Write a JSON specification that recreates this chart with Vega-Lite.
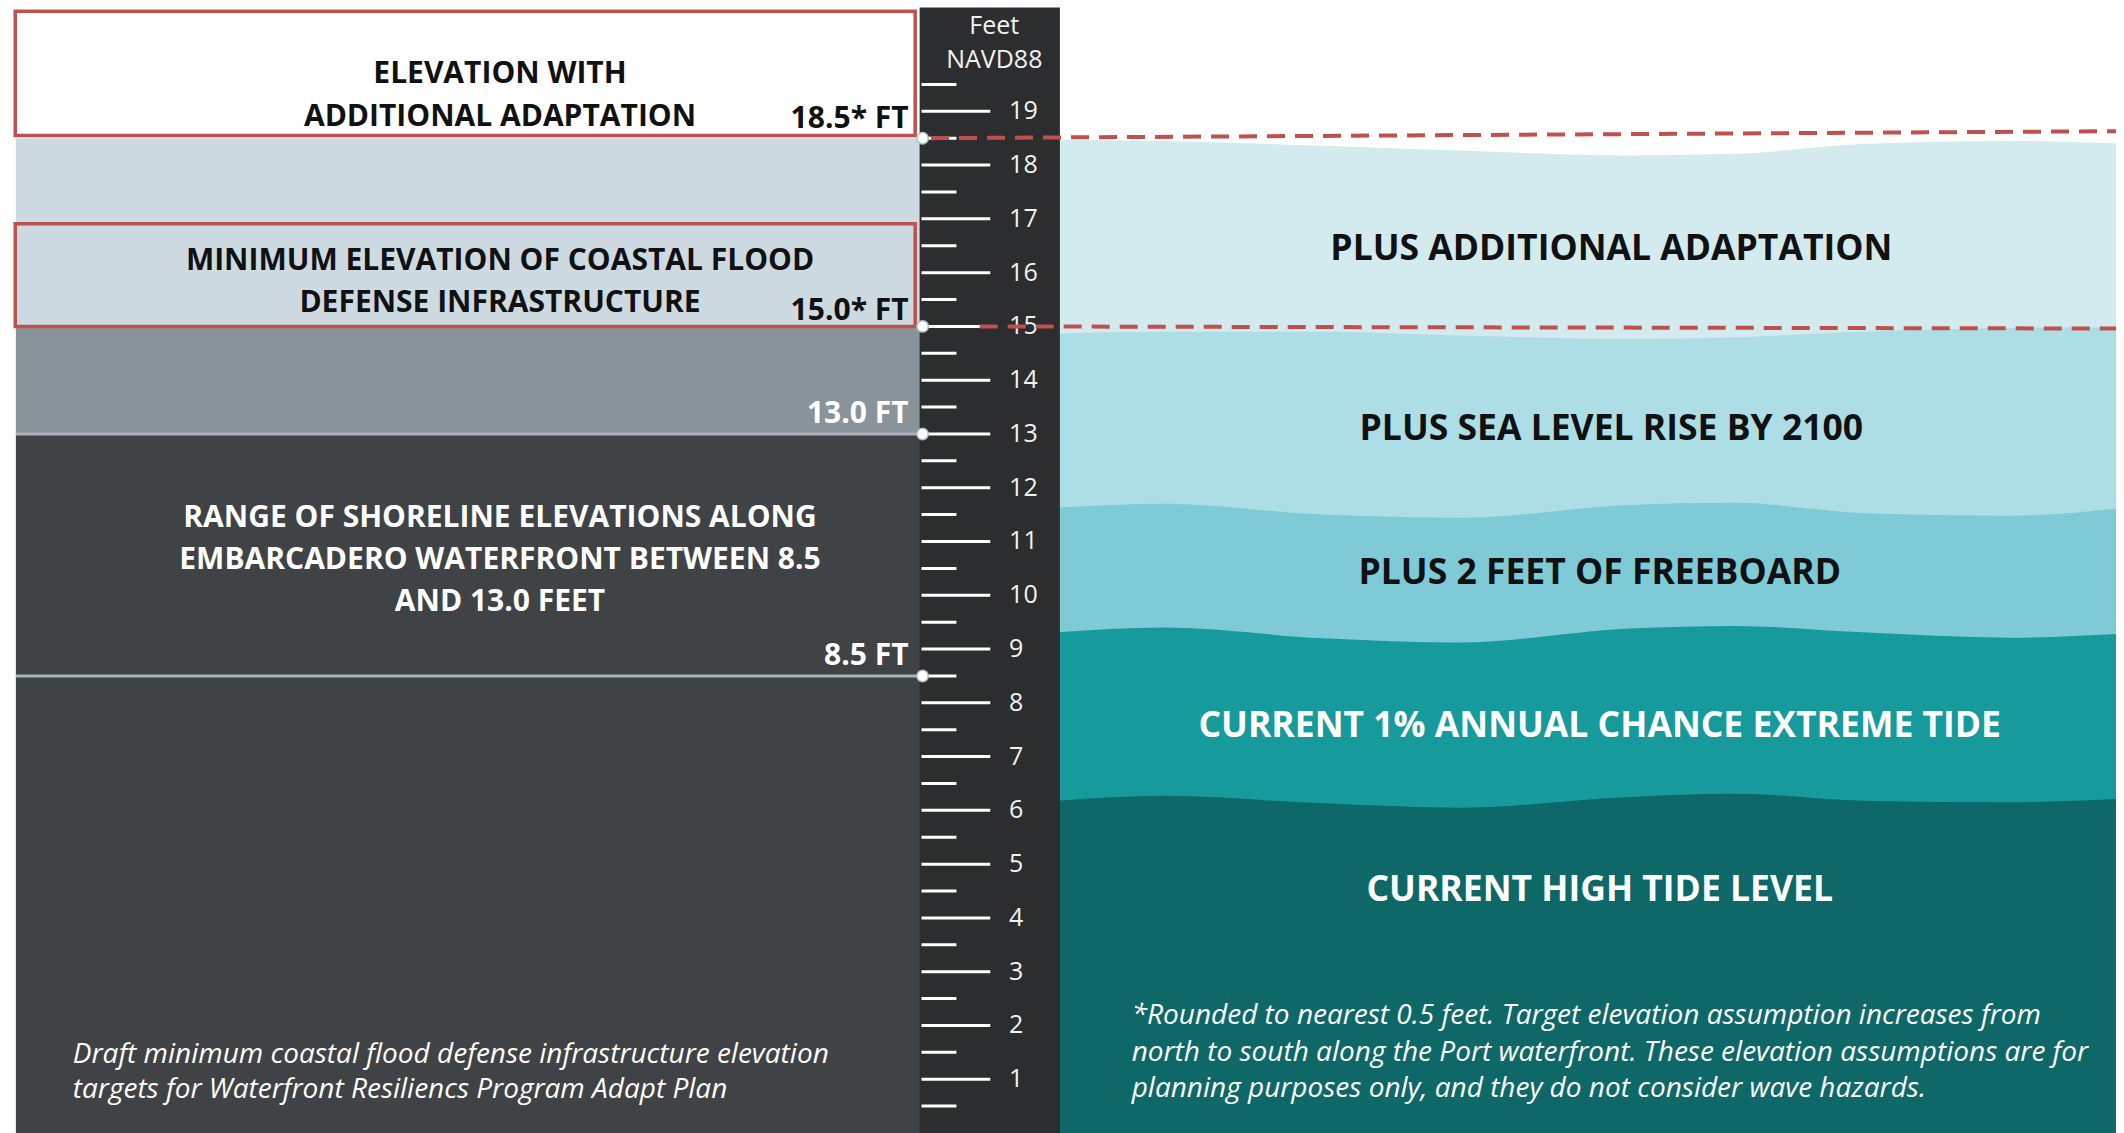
{
  "$schema": "https://vega.github.io/schema/vega-lite/v6.json",
  "width": 2124,
  "height": 1133,
  "padding": 0,
  "autosize": {"type": "fit", "contains": "padding"},
  "background": "white",
  "config": {"view": {"stroke": null}, "font": "Open Sans"},
  "datasets": {
    "zones": [
      {"zone": "Min. elevation to adapted elevation", "lo": 15, "hi": 18.5},
      {"zone": "Above shoreline range", "lo": 13, "hi": 15},
      {"zone": "Shoreline range and below", "lo": 0, "hi": 13}
    ],
    "waves": [
      {"band": "Plus additional adaptation", "x": 50, "ft": 18.47},
      {"band": "Plus additional adaptation", "x": 55, "ft": 18.45},
      {"band": "Plus additional adaptation", "x": 62.5, "ft": 18.36},
      {"band": "Plus additional adaptation", "x": 69, "ft": 18.27},
      {"band": "Plus additional adaptation", "x": 77, "ft": 18.18},
      {"band": "Plus additional adaptation", "x": 82, "ft": 18.21},
      {"band": "Plus additional adaptation", "x": 88, "ft": 18.39},
      {"band": "Plus additional adaptation", "x": 95, "ft": 18.45},
      {"band": "Plus additional adaptation", "x": 100, "ft": 18.40},
      {"band": "Plus sea level rise by 2100", "x": 50, "ft": 14.87},
      {"band": "Plus sea level rise by 2100", "x": 55, "ft": 14.90},
      {"band": "Plus sea level rise by 2100", "x": 62.5, "ft": 14.90},
      {"band": "Plus sea level rise by 2100", "x": 69, "ft": 14.83},
      {"band": "Plus sea level rise by 2100", "x": 77, "ft": 14.77},
      {"band": "Plus sea level rise by 2100", "x": 82, "ft": 14.80},
      {"band": "Plus sea level rise by 2100", "x": 88, "ft": 14.90},
      {"band": "Plus sea level rise by 2100", "x": 95, "ft": 14.97},
      {"band": "Plus sea level rise by 2100", "x": 100, "ft": 14.98},
      {"band": "Plus 2 feet of freeboard", "x": 50, "ft": 11.63},
      {"band": "Plus 2 feet of freeboard", "x": 55, "ft": 11.70},
      {"band": "Plus 2 feet of freeboard", "x": 62.5, "ft": 11.50},
      {"band": "Plus 2 feet of freeboard", "x": 69, "ft": 11.44},
      {"band": "Plus 2 feet of freeboard", "x": 77, "ft": 11.68},
      {"band": "Plus 2 feet of freeboard", "x": 82, "ft": 11.72},
      {"band": "Plus 2 feet of freeboard", "x": 88, "ft": 11.53},
      {"band": "Plus 2 feet of freeboard", "x": 95, "ft": 11.48},
      {"band": "Plus 2 feet of freeboard", "x": 100, "ft": 11.61},
      {"band": "Current 1% annual chance extreme tide", "x": 50, "ft": 9.31},
      {"band": "Current 1% annual chance extreme tide", "x": 55, "ft": 9.40},
      {"band": "Current 1% annual chance extreme tide", "x": 62.5, "ft": 9.20},
      {"band": "Current 1% annual chance extreme tide", "x": 69, "ft": 9.12},
      {"band": "Current 1% annual chance extreme tide", "x": 77, "ft": 9.38},
      {"band": "Current 1% annual chance extreme tide", "x": 82, "ft": 9.43},
      {"band": "Current 1% annual chance extreme tide", "x": 88, "ft": 9.31},
      {"band": "Current 1% annual chance extreme tide", "x": 95, "ft": 9.21},
      {"band": "Current 1% annual chance extreme tide", "x": 100, "ft": 9.28},
      {"band": "Current high tide level", "x": 50, "ft": 6.18},
      {"band": "Current high tide level", "x": 55, "ft": 6.27},
      {"band": "Current high tide level", "x": 62.5, "ft": 6.13},
      {"band": "Current high tide level", "x": 69, "ft": 6.05},
      {"band": "Current high tide level", "x": 77, "ft": 6.25},
      {"band": "Current high tide level", "x": 82, "ft": 6.31},
      {"band": "Current high tide level", "x": 88, "ft": 6.18},
      {"band": "Current high tide level", "x": 95, "ft": 6.15},
      {"band": "Current high tide level", "x": 100, "ft": 6.21}
    ],
    "ticks": [
      {"ft": 1, "kind": "major"}, {"ft": 2, "kind": "major"}, {"ft": 3, "kind": "major"}, {"ft": 4, "kind": "major"},
      {"ft": 5, "kind": "major"}, {"ft": 6, "kind": "major"}, {"ft": 7, "kind": "major"}, {"ft": 8, "kind": "major"},
      {"ft": 9, "kind": "major"}, {"ft": 10, "kind": "major"}, {"ft": 11, "kind": "major"}, {"ft": 12, "kind": "major"},
      {"ft": 13, "kind": "major"}, {"ft": 14, "kind": "major"}, {"ft": 15, "kind": "major"}, {"ft": 16, "kind": "major"},
      {"ft": 17, "kind": "major"}, {"ft": 18, "kind": "major"}, {"ft": 19, "kind": "major"},
      {"ft": 0.5, "kind": "minor"}, {"ft": 1.5, "kind": "minor"}, {"ft": 2.5, "kind": "minor"}, {"ft": 3.5, "kind": "minor"},
      {"ft": 4.5, "kind": "minor"}, {"ft": 5.5, "kind": "minor"}, {"ft": 6.5, "kind": "minor"}, {"ft": 7.5, "kind": "minor"},
      {"ft": 8.5, "kind": "minor"}, {"ft": 9.5, "kind": "minor"}, {"ft": 10.5, "kind": "minor"}, {"ft": 11.5, "kind": "minor"},
      {"ft": 12.5, "kind": "minor"}, {"ft": 13.5, "kind": "minor"}, {"ft": 14.5, "kind": "minor"}, {"ft": 15.5, "kind": "minor"},
      {"ft": 16.5, "kind": "minor"}, {"ft": 17.5, "kind": "minor"}, {"ft": 18.5, "kind": "minor"}, {"ft": 19.5, "kind": "minor"}
    ],
    "shoreline": [{"ft": 13}, {"ft": 8.5}],
    "boxes": [
      {"box": "Elevation with additional adaptation", "lo": 18.55, "hi": 20.86},
      {"box": "Minimum elevation of coastal flood defense infrastructure", "lo": 15.0, "hi": 16.91}
    ],
    "targets": [
      {"line": "18.5 ft", "x": 44.0, "ft": 18.5},
      {"line": "18.5 ft", "x": 100, "ft": 18.63},
      {"line": "15.0 ft", "x": 46.3, "ft": 15.0},
      {"line": "15.0 ft", "x": 100, "ft": 14.96}
    ],
    "markers": [{"ft": 18.5}, {"ft": 15}, {"ft": 13}, {"ft": 8.5}],
    "labels": [
      {"role": "leftDark", "text": "ELEVATION WITH", "x": 23.63, "ft": 19.53},
      {"role": "leftDark", "text": "ADDITIONAL ADAPTATION", "x": 23.63, "ft": 18.73},
      {"role": "leftDark", "text": "MINIMUM ELEVATION OF COASTAL FLOOD", "x": 23.63, "ft": 16.05},
      {"role": "leftDark", "text": "DEFENSE INFRASTRUCTURE", "x": 23.63, "ft": 15.27},
      {"role": "leftLight", "text": "RANGE OF SHORELINE ELEVATIONS ALONG", "x": 23.63, "ft": 11.27},
      {"role": "leftLight", "text": "EMBARCADERO WATERFRONT BETWEEN 8.5", "x": 23.63, "ft": 10.49},
      {"role": "leftLight", "text": "AND 13.0 FEET", "x": 23.63, "ft": 9.71},
      {"role": "valueDark", "text": "18.5* FT", "x": 42.94, "ft": 18.69},
      {"role": "valueDark", "text": "15.0* FT", "x": 42.94, "ft": 15.12},
      {"role": "valueLight", "text": "13.0 FT", "x": 42.94, "ft": 13.2},
      {"role": "valueLight", "text": "8.5 FT", "x": 42.94, "ft": 8.7},
      {"role": "rightDark", "text": "PLUS ADDITIONAL ADAPTATION", "x": 76.15, "ft": 16.24},
      {"role": "rightDark", "text": "PLUS SEA LEVEL RISE BY 2100", "x": 76.15, "ft": 12.89},
      {"role": "rightDark", "text": "PLUS 2 FEET OF FREEBOARD", "x": 75.6, "ft": 10.21},
      {"role": "rightLight", "text": "CURRENT 1% ANNUAL CHANCE EXTREME TIDE", "x": 75.6, "ft": 7.36},
      {"role": "rightLight", "text": "CURRENT HIGH TIDE LEVEL", "x": 75.6, "ft": 4.31},
      {"role": "note", "text": "Draft minimum coastal flood defense infrastructure elevation", "x": 3.44, "ft": 1.31},
      {"role": "note", "text": "targets for Waterfront Resiliencs Program Adapt Plan", "x": 3.44, "ft": 0.65},
      {"role": "note", "text": "*Rounded to nearest 0.5 feet. Target elevation assumption increases from", "x": 53.48, "ft": 2.03},
      {"role": "note", "text": "north to south along the Port waterfront. These elevation assumptions are for", "x": 53.48, "ft": 1.34},
      {"role": "note", "text": "planning purposes only, and they do not consider wave hazards.", "x": 53.48, "ft": 0.67},
      {"role": "unit", "text": "Feet", "x": 46.99, "ft": 20.44},
      {"role": "unit", "text": "NAVD88", "x": 46.99, "ft": 19.81}
    ]
  },
  "layer": [
    {
      "data": {"name": "zones"},
      "mark": {"type": "rect"},
      "encoding": {
        "x": {"datum": 0.75, "type": "quantitative", "scale": {"domain": [0, 100], "nice": false, "zero": false}, "axis": null},
        "x2": {"datum": 43.5},
        "y": {"field": "lo", "type": "quantitative", "scale": {"domain": [0, 21.07], "nice": false, "zero": false}, "axis": null},
        "y2": {"field": "hi"},
        "color": {"field": "zone", "type": "nominal", "legend": null,
          "scale": {"domain": ["Min. elevation to adapted elevation", "Above shoreline range", "Shoreline range and below"], "range": ["#cddae1", "#89939a", "#3f4345"]}}
      }
    },
    {
      "data": {"name": "waves"},
      "transform": [{"filter": "datum.band === 'Plus additional adaptation'"}],
      "mark": {"type": "area", "interpolate": "monotone", "color": "#d3eaee"},
      "encoding": {
        "x": {"field": "x", "type": "quantitative", "scale": {"domain": [0, 100], "nice": false, "zero": false}, "axis": null},
        "y": {"field": "ft", "type": "quantitative", "scale": {"domain": [0, 21.07], "nice": false, "zero": false}, "axis": null},
        "y2": {"datum": 0}
      }
    },
    {
      "data": {"name": "waves"},
      "transform": [{"filter": "datum.band === 'Plus sea level rise by 2100'"}],
      "mark": {"type": "area", "interpolate": "monotone", "color": "#aedee5"},
      "encoding": {
        "x": {"field": "x", "type": "quantitative", "scale": {"domain": [0, 100], "nice": false, "zero": false}, "axis": null},
        "y": {"field": "ft", "type": "quantitative", "scale": {"domain": [0, 21.07], "nice": false, "zero": false}, "axis": null},
        "y2": {"datum": 0}
      }
    },
    {
      "data": {"name": "waves"},
      "transform": [{"filter": "datum.band === 'Plus 2 feet of freeboard'"}],
      "mark": {"type": "area", "interpolate": "monotone", "color": "#7ecbd7"},
      "encoding": {
        "x": {"field": "x", "type": "quantitative", "scale": {"domain": [0, 100], "nice": false, "zero": false}, "axis": null},
        "y": {"field": "ft", "type": "quantitative", "scale": {"domain": [0, 21.07], "nice": false, "zero": false}, "axis": null},
        "y2": {"datum": 0}
      }
    },
    {
      "data": {"name": "waves"},
      "transform": [{"filter": "datum.band === 'Current 1% annual chance extreme tide'"}],
      "mark": {"type": "area", "interpolate": "monotone", "color": "#179a9b"},
      "encoding": {
        "x": {"field": "x", "type": "quantitative", "scale": {"domain": [0, 100], "nice": false, "zero": false}, "axis": null},
        "y": {"field": "ft", "type": "quantitative", "scale": {"domain": [0, 21.07], "nice": false, "zero": false}, "axis": null},
        "y2": {"datum": 0}
      }
    },
    {
      "data": {"name": "waves"},
      "transform": [{"filter": "datum.band === 'Current high tide level'"}],
      "mark": {"type": "area", "interpolate": "monotone", "color": "#0e6868"},
      "encoding": {
        "x": {"field": "x", "type": "quantitative", "scale": {"domain": [0, 100], "nice": false, "zero": false}, "axis": null},
        "y": {"field": "ft", "type": "quantitative", "scale": {"domain": [0, 21.07], "nice": false, "zero": false}, "axis": null},
        "y2": {"datum": 0}
      }
    },
    {
      "data": {"values": [{"item": "elevation scale"}]},
      "mark": {"type": "rect", "color": "#2b2d2f"},
      "encoding": {
        "x": {"datum": 43.46, "type": "quantitative", "scale": {"domain": [0, 100], "nice": false, "zero": false}, "axis": null},
        "x2": {"datum": 50.09},
        "y": {"datum": 0, "type": "quantitative", "scale": {"domain": [0, 21.07], "nice": false, "zero": false}, "axis": null},
        "y2": {"datum": 20.93}
      }
    },
    {
      "data": {"name": "ticks"},
      "transform": [{"filter": "datum.kind === 'major'"}],
      "mark": {"type": "rule", "color": "#ffffff", "strokeWidth": 3},
      "encoding": {
        "x": {"datum": 43.55, "type": "quantitative", "scale": {"domain": [0, 100], "nice": false, "zero": false}, "axis": null},
        "x2": {"datum": 46.8},
        "y": {"field": "ft", "type": "quantitative", "scale": {"domain": [0, 21.07], "nice": false, "zero": false}, "axis": null}
      }
    },
    {
      "data": {"name": "ticks"},
      "transform": [{"filter": "datum.kind === 'minor'"}],
      "mark": {"type": "rule", "color": "#ffffff", "strokeWidth": 3},
      "encoding": {
        "x": {"datum": 43.55, "type": "quantitative", "scale": {"domain": [0, 100], "nice": false, "zero": false}, "axis": null},
        "x2": {"datum": 45.2},
        "y": {"field": "ft", "type": "quantitative", "scale": {"domain": [0, 21.07], "nice": false, "zero": false}, "axis": null}
      }
    },
    {
      "data": {"name": "ticks"},
      "transform": [{"filter": "datum.kind === 'major'"}],
      "mark": {"type": "text", "color": "#f2f2f2", "fontSize": 25, "align": "left", "baseline": "middle"},
      "encoding": {
        "x": {"datum": 47.69, "type": "quantitative", "scale": {"domain": [0, 100], "nice": false, "zero": false}, "axis": null},
        "y": {"field": "ft", "type": "quantitative", "scale": {"domain": [0, 21.07], "nice": false, "zero": false}, "axis": null},
        "text": {"field": "ft", "type": "quantitative"}
      }
    },
    {
      "data": {"name": "shoreline"},
      "mark": {"type": "rule", "color": "#a9b3b9", "strokeWidth": 3},
      "encoding": {
        "x": {"datum": 0.75, "type": "quantitative", "scale": {"domain": [0, 100], "nice": false, "zero": false}, "axis": null},
        "x2": {"datum": 43.5},
        "y": {"field": "ft", "type": "quantitative", "scale": {"domain": [0, 21.07], "nice": false, "zero": false}, "axis": null}
      }
    },
    {
      "data": {"name": "targets"},
      "mark": {"type": "line", "color": "#c0504d", "strokeWidth": 4, "strokeDash": [18, 10]},
      "encoding": {
        "x": {"field": "x", "type": "quantitative", "scale": {"domain": [0, 100], "nice": false, "zero": false}, "axis": null},
        "y": {"field": "ft", "type": "quantitative", "scale": {"domain": [0, 21.07], "nice": false, "zero": false}, "axis": null},
        "detail": {"field": "line", "type": "nominal"}
      }
    },
    {
      "data": {"name": "boxes"},
      "mark": {"type": "rect", "fillOpacity": 0, "stroke": "#c0504d", "strokeWidth": 3.5},
      "encoding": {
        "x": {"datum": 0.72, "type": "quantitative", "scale": {"domain": [0, 100], "nice": false, "zero": false}, "axis": null},
        "x2": {"datum": 43.25},
        "y": {"field": "lo", "type": "quantitative", "scale": {"domain": [0, 21.07], "nice": false, "zero": false}, "axis": null},
        "y2": {"field": "hi"}
      }
    },
    {
      "data": {"name": "markers"},
      "mark": {"type": "point", "filled": true, "color": "#ffffff", "stroke": "#b5bdc2", "strokeWidth": 1.5, "size": 130, "opacity": 1},
      "encoding": {
        "x": {"datum": 43.6, "type": "quantitative", "scale": {"domain": [0, 100], "nice": false, "zero": false}, "axis": null},
        "y": {"field": "ft", "type": "quantitative", "scale": {"domain": [0, 21.07], "nice": false, "zero": false}, "axis": null}
      }
    },
    {
      "data": {"name": "labels"},
      "transform": [{"filter": "datum.role === 'leftDark'"}],
      "mark": {"type": "text", "fontSize": 30, "fontWeight": "bold", "align": "center", "baseline": "alphabetic", "color": "#111111"},
      "encoding": {
        "x": {"field": "x", "type": "quantitative", "scale": {"domain": [0, 100], "nice": false, "zero": false}, "axis": null},
        "y": {"field": "ft", "type": "quantitative", "scale": {"domain": [0, 21.07], "nice": false, "zero": false}, "axis": null},
        "text": {"field": "text"}
      }
    },
    {
      "data": {"name": "labels"},
      "transform": [{"filter": "datum.role === 'leftLight'"}],
      "mark": {"type": "text", "fontSize": 30, "fontWeight": "bold", "align": "center", "baseline": "alphabetic", "color": "#ffffff"},
      "encoding": {
        "x": {"field": "x", "type": "quantitative", "scale": {"domain": [0, 100], "nice": false, "zero": false}, "axis": null},
        "y": {"field": "ft", "type": "quantitative", "scale": {"domain": [0, 21.07], "nice": false, "zero": false}, "axis": null},
        "text": {"field": "text"}
      }
    },
    {
      "data": {"name": "labels"},
      "transform": [{"filter": "datum.role === 'valueDark'"}],
      "mark": {"type": "text", "fontSize": 30, "fontWeight": "bold", "align": "right", "baseline": "alphabetic", "color": "#111111"},
      "encoding": {
        "x": {"field": "x", "type": "quantitative", "scale": {"domain": [0, 100], "nice": false, "zero": false}, "axis": null},
        "y": {"field": "ft", "type": "quantitative", "scale": {"domain": [0, 21.07], "nice": false, "zero": false}, "axis": null},
        "text": {"field": "text"}
      }
    },
    {
      "data": {"name": "labels"},
      "transform": [{"filter": "datum.role === 'valueLight'"}],
      "mark": {"type": "text", "fontSize": 30, "fontWeight": "bold", "align": "right", "baseline": "alphabetic", "color": "#ffffff"},
      "encoding": {
        "x": {"field": "x", "type": "quantitative", "scale": {"domain": [0, 100], "nice": false, "zero": false}, "axis": null},
        "y": {"field": "ft", "type": "quantitative", "scale": {"domain": [0, 21.07], "nice": false, "zero": false}, "axis": null},
        "text": {"field": "text"}
      }
    },
    {
      "data": {"name": "labels"},
      "transform": [{"filter": "datum.role === 'rightDark'"}],
      "mark": {"type": "text", "fontSize": 35.5, "fontWeight": "bold", "align": "center", "baseline": "alphabetic", "color": "#111111"},
      "encoding": {
        "x": {"field": "x", "type": "quantitative", "scale": {"domain": [0, 100], "nice": false, "zero": false}, "axis": null},
        "y": {"field": "ft", "type": "quantitative", "scale": {"domain": [0, 21.07], "nice": false, "zero": false}, "axis": null},
        "text": {"field": "text"}
      }
    },
    {
      "data": {"name": "labels"},
      "transform": [{"filter": "datum.role === 'rightLight'"}],
      "mark": {"type": "text", "fontSize": 35.5, "fontWeight": "bold", "align": "center", "baseline": "alphabetic", "color": "#ffffff"},
      "encoding": {
        "x": {"field": "x", "type": "quantitative", "scale": {"domain": [0, 100], "nice": false, "zero": false}, "axis": null},
        "y": {"field": "ft", "type": "quantitative", "scale": {"domain": [0, 21.07], "nice": false, "zero": false}, "axis": null},
        "text": {"field": "text"}
      }
    },
    {
      "data": {"name": "labels"},
      "transform": [{"filter": "datum.role === 'note'"}],
      "mark": {"type": "text", "fontSize": 28, "fontStyle": "italic", "align": "left", "baseline": "alphabetic", "color": "#ffffff"},
      "encoding": {
        "x": {"field": "x", "type": "quantitative", "scale": {"domain": [0, 100], "nice": false, "zero": false}, "axis": null},
        "y": {"field": "ft", "type": "quantitative", "scale": {"domain": [0, 21.07], "nice": false, "zero": false}, "axis": null},
        "text": {"field": "text"}
      }
    },
    {
      "data": {"name": "labels"},
      "transform": [{"filter": "datum.role === 'unit'"}],
      "mark": {"type": "text", "fontSize": 25, "align": "center", "baseline": "alphabetic", "color": "#f2f2f2"},
      "encoding": {
        "x": {"field": "x", "type": "quantitative", "scale": {"domain": [0, 100], "nice": false, "zero": false}, "axis": null},
        "y": {"field": "ft", "type": "quantitative", "scale": {"domain": [0, 21.07], "nice": false, "zero": false}, "axis": null},
        "text": {"field": "text"}
      }
    }
  ]
}
